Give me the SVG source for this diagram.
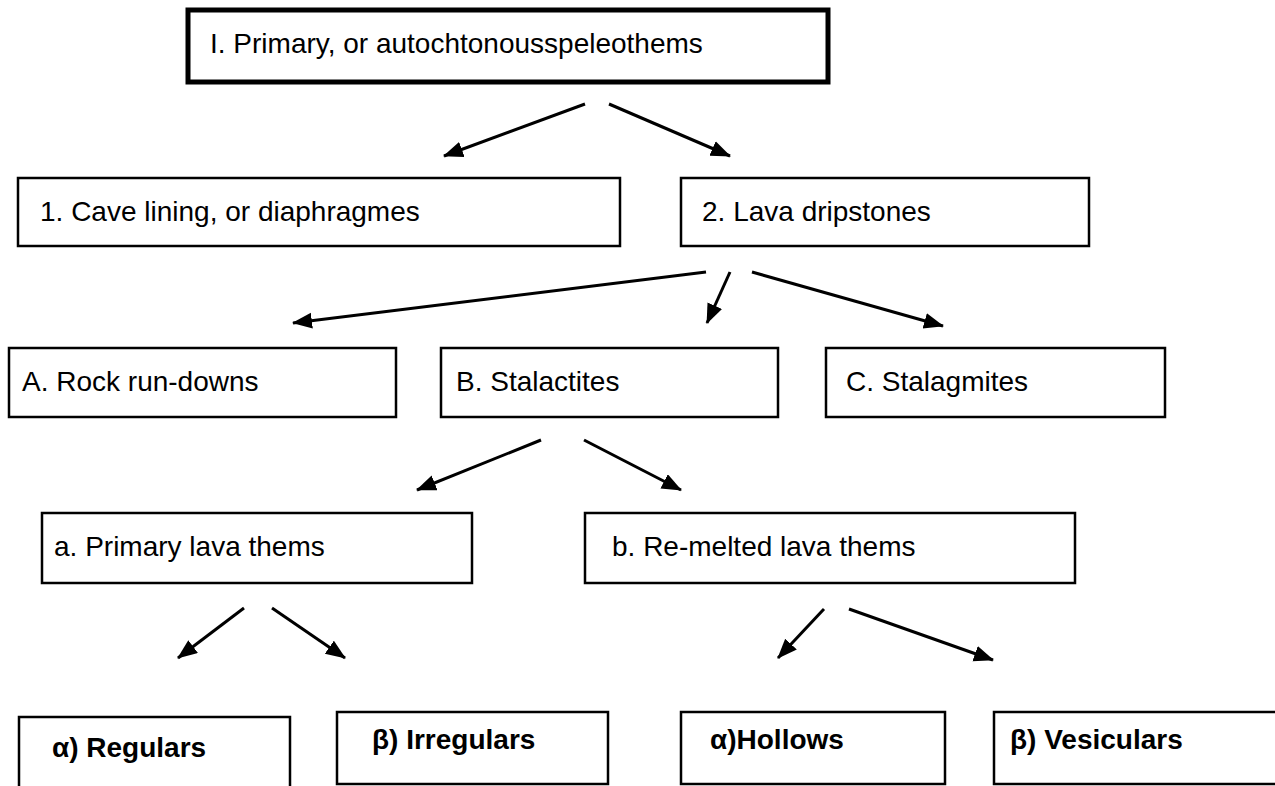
<svg xmlns="http://www.w3.org/2000/svg" width="1275" height="786" viewBox="0 0 1275 786">
<defs>
<style>
.box{fill:#fff;stroke:#000;stroke-width:2.5}
.thick{fill:#fff;stroke:#000;stroke-width:5}
.t{font-family:"Liberation Sans",Arial,sans-serif;font-size:28px;fill:#000}
.b{font-family:"Liberation Sans",Arial,sans-serif;font-size:28px;font-weight:bold;fill:#000}
.c{stroke:#000;stroke-width:3;fill:none;marker-end:url(#ah)}
</style>
<marker id="ah" markerUnits="userSpaceOnUse" markerWidth="22" markerHeight="18" refX="19" refY="8" orient="auto">
<path d="M0,0 L20,8 L0,16 z" fill="#000"/>
</marker>
</defs>
<rect width="1275" height="786" fill="#fff"/>
<g id="n-top"><rect class="thick" x="188" y="10" width="640" height="72"/><text class="t" x="210" y="53">I. Primary, or autochtonousspeleothems</text></g>
<g id="n-1"><rect class="box" x="18" y="178" width="602" height="68"/><text class="t" x="40" y="221">1. Cave lining, or diaphragmes</text></g>
<g id="n-2"><rect class="box" x="681" y="178" width="408" height="68"/><text class="t" x="702" y="221">2. Lava dripstones</text></g>
<g id="n-A"><rect class="box" x="9" y="348" width="387" height="69"/><text class="t" x="22" y="391">A. Rock run-downs</text></g>
<g id="n-B"><rect class="box" x="441" y="348" width="337" height="69"/><text class="t" x="456" y="391">B. Stalactites</text></g>
<g id="n-C"><rect class="box" x="826" y="348" width="339" height="69"/><text class="t" x="846" y="391">C. Stalagmites</text></g>
<g id="n-a"><rect class="box" x="42" y="513" width="430" height="70"/><text class="t" x="54" y="556">a. Primary lava thems</text></g>
<g id="n-b"><rect class="box" x="585" y="513" width="490" height="70"/><text class="t" x="612" y="556">b. Re-melted lava thems</text></g>
<g id="n-a1"><path class="box" d="M19,790 V717 H290 V790" fill="none"/><text class="b" x="52" y="757">α) Regulars</text></g>
<g id="n-a2"><rect class="box" x="337" y="712" width="271" height="72"/><text class="b" x="372" y="749">β) Irregulars</text></g>
<g id="n-b1"><rect class="box" x="681" y="712" width="264" height="72"/><text class="b" x="710" y="749">α)Hollows</text></g>
<g id="n-b2"><path class="box" d="M1280,784 H994 V712 H1280" fill="none"/><text class="b" x="1010" y="749">β) Vesiculars</text></g>
<g id="connectors">
<line class="c" x1="585" y1="104" x2="444" y2="156"/>
<line class="c" x1="609" y1="104" x2="730" y2="156"/>
<line class="c" x1="706" y1="272" x2="293" y2="323"/>
<line class="c" x1="730" y1="272" x2="707" y2="323"/>
<line class="c" x1="752" y1="272" x2="943" y2="326"/>
<line class="c" x1="541" y1="440" x2="417" y2="490"/>
<line class="c" x1="584" y1="440" x2="681" y2="490"/>
<line class="c" x1="244" y1="608" x2="178" y2="658"/>
<line class="c" x1="272" y1="608" x2="345" y2="658"/>
<line class="c" x1="824" y1="609" x2="778" y2="658"/>
<line class="c" x1="849" y1="609" x2="993" y2="660"/>
</g>
</svg>
